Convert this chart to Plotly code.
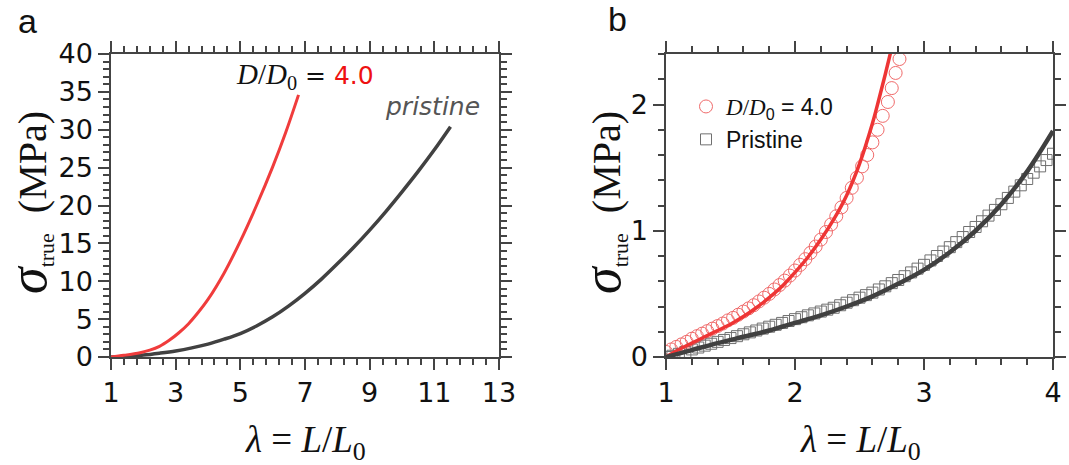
import plotly.graph_objects as go

# ---------------- data ----------------
a_d4_x = [1.0, 1.4, 1.9, 2.2, 2.5, 2.8, 3.1, 3.4, 3.7, 4.0, 4.5, 5.0, 5.5, 6.0, 6.4, 6.8]
a_d4_y = [0.0, 0.22, 0.57, 0.9, 1.4, 2.2, 3.2, 4.4, 5.9, 7.6, 11.1, 15.3, 20.0, 25.1, 29.6, 34.6]

a_pr_x = [1.0, 1.5, 2.0, 2.5, 3.0, 3.5, 4.0, 4.5, 5.0, 5.5, 6.0, 6.5, 7.0, 7.5, 8.0, 8.5,
          9.0, 9.5, 10.0, 10.5, 11.0, 11.5]
a_pr_y = [0.0, 0.08, 0.25, 0.5, 0.8, 1.2, 1.7, 2.35, 3.1, 4.1, 5.3, 6.75, 8.4, 10.25, 12.3, 14.45,
          16.75, 19.2, 21.8, 24.5, 27.35, 30.4]

b_d4_x = [1.00, 1.04, 1.08, 1.12, 1.16, 1.20, 1.24, 1.28, 1.32, 1.36, 1.40, 1.44, 1.48, 1.52,
          1.56, 1.60, 1.64, 1.68, 1.72, 1.76, 1.80, 1.84, 1.88, 1.92, 1.96, 2.00, 2.04, 2.08,
          2.12, 2.16, 2.20, 2.24, 2.28, 2.32, 2.36, 2.40, 2.44, 2.48, 2.52, 2.56, 2.60, 2.64,
          2.68, 2.72, 2.75, 2.78, 2.81, 2.84]
b_d4_y = [0.04, 0.06, 0.08, 0.10, 0.12, 0.145, 0.165, 0.185, 0.205, 0.225, 0.245, 0.265, 0.29,
          0.31, 0.335, 0.36, 0.385, 0.41, 0.44, 0.47, 0.50, 0.535, 0.57, 0.605, 0.645, 0.685,
          0.73, 0.775, 0.825, 0.875, 0.93, 0.99, 1.05, 1.115, 1.185, 1.26, 1.34, 1.42, 1.51,
          1.60, 1.70, 1.80, 1.91, 2.02, 2.13, 2.25, 2.36, 2.48]

b_pr_x = [1.00, 1.05, 1.10, 1.15, 1.20, 1.25, 1.30, 1.35, 1.40, 1.45, 1.50, 1.55, 1.60, 1.65,
          1.70, 1.75, 1.80, 1.85, 1.90, 1.95, 2.00, 2.05, 2.10, 2.15, 2.20, 2.25, 2.30, 2.35,
          2.40, 2.45, 2.50, 2.55, 2.60, 2.65, 2.70, 2.75, 2.80, 2.85, 2.90, 2.95, 3.00, 3.05,
          3.10, 3.15, 3.20, 3.25, 3.30, 3.35, 3.40, 3.45, 3.50, 3.55, 3.60, 3.65, 3.70, 3.75,
          3.80, 3.85, 3.90, 3.95, 4.00]
b_pr_y = [0.00, 0.01, 0.025, 0.04, 0.06, 0.075, 0.09, 0.105, 0.12, 0.135, 0.15, 0.165, 0.18,
          0.195, 0.21, 0.225, 0.24, 0.255, 0.27, 0.285, 0.30, 0.315, 0.33, 0.345, 0.36, 0.375,
          0.39, 0.41, 0.43, 0.45, 0.47, 0.49, 0.51, 0.535, 0.56, 0.585, 0.61, 0.64, 0.67, 0.70,
          0.73, 0.765, 0.80, 0.835, 0.87, 0.91, 0.95, 0.99, 1.03, 1.075, 1.12, 1.165, 1.21,
          1.26, 1.31, 1.36, 1.41, 1.46, 1.51, 1.56, 1.61]

b_d4_fit_x = [1.0, 1.1, 1.2, 1.3, 1.4, 1.5, 1.6, 1.7, 1.8, 1.9, 2.0, 2.1, 2.2, 2.3, 2.4, 2.5,
              2.6, 2.65, 2.7, 2.75]
b_d4_fit_y = [0.0, 0.06, 0.11, 0.16, 0.21, 0.26, 0.32, 0.39, 0.47, 0.56, 0.67, 0.79, 0.93,
              1.09, 1.28, 1.53, 1.85, 2.04, 2.24, 2.45]

b_pr_fit_x = [1.0, 1.2, 1.4, 1.6, 1.8, 2.0, 2.2, 2.4, 2.6, 2.8, 3.0, 3.2, 3.4, 3.6, 3.8, 4.0]
b_pr_fit_y = [0.0, 0.055, 0.11, 0.16, 0.21, 0.27, 0.33, 0.40, 0.48, 0.58, 0.69, 0.83, 1.00,
              1.21, 1.47, 1.79]

a_xticks = [1, 3, 5, 7, 9, 11, 13]
a_yticks = [0, 5, 10, 15, 20, 25, 30, 35, 40]
b_xticks = [1, 2, 3, 4]
b_yticks = [0, 1, 2]

W, H = 1069, 465
def px(v):
    return v / W
def py(v):
    return 1 - v / H

AX = "#444444"
TICKFONT = dict(family="DejaVu Sans", size=27, color="#111111")
SERIF = "Liberation Serif"

fig = go.Figure()

fig.add_trace(go.Scatter(x=a_pr_x, y=a_pr_y, mode="lines", line=dict(color="#414141", width=3.5, shape="spline", smoothing=1),
                         xaxis="x", yaxis="y", showlegend=False, hoverinfo="skip"))
fig.add_trace(go.Scatter(x=a_d4_x, y=a_d4_y, mode="lines", line=dict(color="#f03c3c", width=3, shape="spline", smoothing=1),
                         xaxis="x", yaxis="y", showlegend=False, hoverinfo="skip"))

fig.add_trace(go.Scatter(x=b_d4_x, y=b_d4_y, mode="markers", name='<span style="font-family:Liberation Serif"><i>D</i>/<i>D</i></span><sub>0</sub> = 4.0',
                         marker=dict(symbol="circle-open", size=13, color="#f06a6a", line=dict(width=1)),
                         xaxis="x2", yaxis="y2", hoverinfo="skip"))
fig.add_trace(go.Scatter(x=b_pr_x, y=b_pr_y, mode="markers", name="Pristine",
                         marker=dict(symbol="square-open", size=11, color="#707070", line=dict(width=1)),
                         xaxis="x2", yaxis="y2", hoverinfo="skip"))
fig.add_trace(go.Scatter(x=b_d4_fit_x, y=b_d4_fit_y, mode="lines", line=dict(color="#ee3535", width=3.5, shape="spline"),
                         xaxis="x2", yaxis="y2", showlegend=False, hoverinfo="skip"))
fig.add_trace(go.Scatter(x=b_pr_fit_x, y=b_pr_fit_y, mode="lines", line=dict(color="#404040", width=4.5, shape="spline"),
                         xaxis="x2", yaxis="y2", showlegend=False, hoverinfo="skip"))

def main_axis(rng, tickvals, minor_dtick, tick0, domain, anchor):
    return dict(domain=domain, anchor=anchor, range=rng, tickmode="array", tickvals=tickvals,
                ticks="outside", ticklen=11, tickwidth=2, tickcolor=AX,
                showline=True, linecolor=AX, linewidth=1.5, mirror="allticks",
                showgrid=False, zeroline=False, tickfont=TICKFONT,
                minor=dict(ticks="outside", ticklen=6, tickwidth=1.5, tickcolor=AX,
                           dtick=minor_dtick, tick0=tick0, showgrid=False),
                automargin=False, fixedrange=True)

ydom = [py(357), py(54)]
fig.update_layout(
    width=W, height=H, margin=dict(l=0, r=0, t=0, b=0), autosize=False,
    paper_bgcolor="white", plot_bgcolor="white",
    xaxis=main_axis([1, 13], a_xticks, 0.4, 1, [px(111), px(499)], "y"),
    yaxis=main_axis([0, 40], a_yticks, 1, 0, ydom, "x"),
    xaxis2=main_axis([1, 4], b_xticks, 0.2, 1, [px(666), px(1053)], "y2"),
    yaxis2=main_axis([0, 2.4], b_yticks, 0.2, 0, ydom, "x2"),
    legend=dict(x=px(686), y=py(85), xanchor="left", yanchor="top", bgcolor="rgba(0,0,0,0)",
                font=dict(family="Liberation Sans", size=23, color="#111111"),
                tracegroupgap=0, itemsizing="trace"),
    showlegend=True,
)

ytitle = ('<span style="font-size:54px"><i>σ</i></span><sub><span style="font-size:22px">true</span></sub>'
          '\u00a0 (MPa)')
xtitle = '<i>λ</i> = <i>L</i>/<i>L</i><sub>0</sub>'

ann = [
    dict(text="a", x=px(27), y=py(21), font=dict(family="Liberation Sans", size=34, color="#111")),
    dict(text="b", x=px(617), y=py(19), font=dict(family="Liberation Sans", size=34, color="#111")),
    dict(text=ytitle, x=px(29), y=py(203), textangle=-90, font=dict(family=SERIF, size=40, color="#111")),
    dict(text=ytitle, x=px(603), y=py(203), textangle=-90, font=dict(family=SERIF, size=40, color="#111")),
    dict(text=xtitle, x=px(305), y=py(442), font=dict(family=SERIF, size=37, color="#111")),
    dict(text=xtitle, x=px(860), y=py(442), font=dict(family=SERIF, size=37, color="#111")),
    dict(text='<span style="font-family:Liberation Serif;font-size:29px"><i>D</i>/<i>D</i><sub>0</sub></span>'
              ' = <span style="color:#ee1111">4.0</span>',
         x=px(305), y=py(76), font=dict(family="DejaVu Sans", size=25, color="#111")),
    dict(text="<i>pristine</i>", x=px(432), y=py(106), font=dict(family="DejaVu Sans", size=25, color="#555555")),
]
for a in ann:
    a.update(xref="paper", yref="paper", showarrow=False, xanchor="center", yanchor="middle")
fig.update_layout(annotations=ann)

fig.write_html("out.html")
